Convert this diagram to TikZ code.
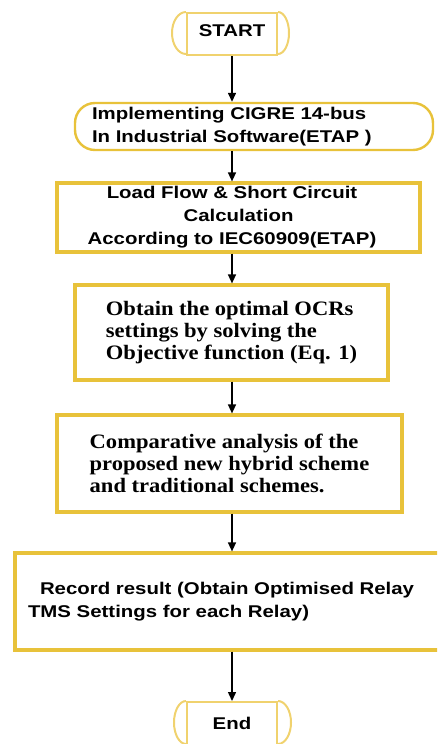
\documentclass[tikz,border=0pt]{standalone}
\usepackage{fontspec}
\newfontfamily\sansx[FakeStretch=1.2]{Liberation Sans}
\newfontfamily\serifx[FakeStretch=1.1]{Liberation Serif}
\usetikzlibrary{arrows.meta}
\definecolor{goldA}{RGB}{232,194,58}
\definecolor{goldB}{RGB}{240,210,110}
\begin{document}
\begin{tikzpicture}[x=1pt,y=-1pt,
  box/.style={draw=goldA, line width=3.2pt, fill=white, inner sep=0pt, rectangle},
  term/.style={draw=goldB, line width=2pt, inner sep=0pt},
  sanst/.style={font=\sansx\bfseries\fontsize{17}{23}\selectfont},
  seritf/.style={font=\serifx\bfseries\fontsize{20.5}{21.7}\selectfont},
  arr/.style={-{Triangle[length=9pt,width=8pt]}, line width=1.4pt, black}]
\useasboundingbox (0,0) rectangle (437,744);
\clip (0,0) rectangle (437,744);

% START terminal
\node[term, sanst, minimum width=90pt, minimum height=42pt, text depth=6pt] (start) at (232,34) {START};
\draw[term] (start.north west) arc[start angle=90, end angle=270, x radius=14pt, y radius=21pt];
\draw[term] (start.north east) arc[start angle=90, end angle=-90, x radius=11pt, y radius=21pt];

% box 2
\node[box, line width=2.4pt, rounded corners=20pt, sanst, text width=324pt, inner xsep=17pt,
      minimum height=47pt, align=left] (n2) at (254,126.5)
  {Implementing CIGRE 14-bus\\In Industrial Software(ETAP )};

% box 3
\node[box, sanst, minimum width=363pt, minimum height=69pt, align=center] (n3) at (238.5,217.5)
  {Load Flow \& Short Circuit\hspace*{13pt}\\Calculation\hspace*{13pt}\\According to IEC60909(ETAP)\hspace*{13pt}};

% box 4
\node[box, seritf, minimum width=313pt, minimum height=95pt, align=left] (n4) at (231.5,332.5)
  {Obtain the optimal OCRs\\settings by solving the\\Objective function (Eq. 1)};

% box 5
\node[box, seritf, minimum width=345pt, minimum height=97pt, align=left] (n5) at (229.5,463.5)
  {Comparative analysis of the\\proposed new hybrid scheme\\and traditional schemes.};

% box 6
\node[box, sanst, text width=409pt, inner xsep=13pt, minimum height=97pt, align=left] (n6) at (232.5,601.5)
  {\hspace*{12pt}Record result (Obtain Optimised Relay\\TMS Settings for each Relay)};

% End terminal
\node[term, sanst, minimum width=90pt, minimum height=43pt] (end) at (232,723.5) {End};
\draw[term] (end.north west) arc[start angle=90, end angle=270, x radius=12pt, y radius=21.5pt];
\draw[term] (end.north east) arc[start angle=90, end angle=-90, x radius=13pt, y radius=21.5pt];

% connectors
\draw[arr] (start.south) -- (n2.north -| start.south);
\draw[arr] (n2.south -| start.south) -- (n3.north -| start.south);
\draw[arr] (n3.south -| start.south) -- (n4.north -| start.south);
\draw[arr] (n4.south -| start.south) -- (n5.north -| start.south);
\draw[arr] (n5.south -| start.south) -- (n6.north -| start.south);
\draw[arr] (n6.south -| start.south) -- (end.north);
\end{tikzpicture}
\end{document}
